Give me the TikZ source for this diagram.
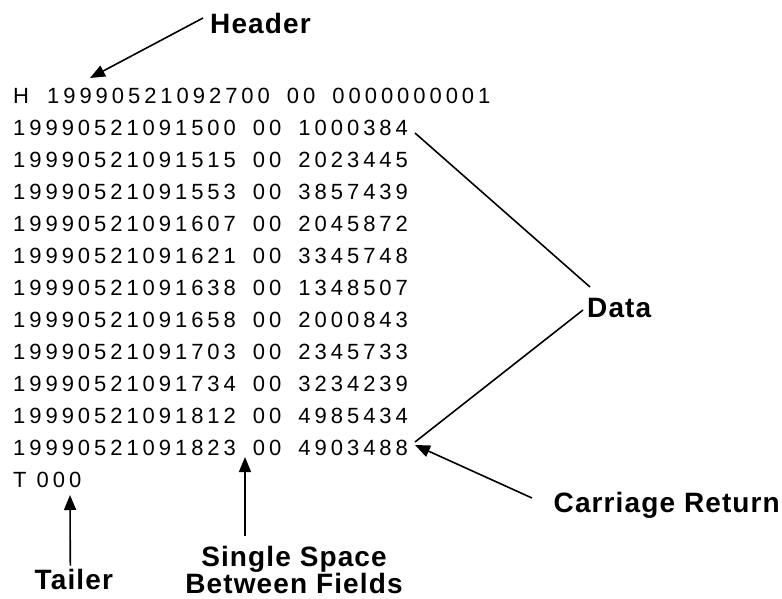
\documentclass[tikz,border=0pt]{standalone}
\usepackage{fontspec}
\setmainfont{Liberation Sans}
\newfontfamily\recfont[LetterSpace=18]{Liberation Sans}
\newfontfamily\labfont[LetterSpace=4]{Liberation Sans Bold}
\usetikzlibrary{arrows.meta,calc}
% widened separator between record fields
\newcommand\fieldgap{\kern7pt}
\tikzset{
  rec/.style={anchor=base west, inner sep=0pt, font=\recfont\fontsize{22}{22}\selectfont},
  lab/.style={inner sep=0pt, font=\labfont\fontsize{28}{28}\selectfont},
  lead/.style={line width=1.6pt},
  pointer/.style={lead, -{Triangle[length=15pt,width=12pt]}}
}
\begin{document}
\begin{tikzpicture}[x=1pt,y=-1pt]
\useasboundingbox (0,0) rectangle (782,598);
% file records
\node[rec] (h)   at (13,103) {H \kern8pt19990521092700 \fieldgap00 \fieldgap0000000001};
\node[rec] (r1)  at (13,135) {19990521091500 \fieldgap00 \fieldgap1000384};
\node[rec] (r2)  at (13,167) {19990521091515 \fieldgap00 \fieldgap2023445};
\node[rec] (r3)  at (13,199) {19990521091553 \fieldgap00 \fieldgap3857439};
\node[rec] (r4)  at (13,231) {19990521091607 \fieldgap00 \fieldgap2045872};
\node[rec] (r5)  at (13,263) {19990521091621 \fieldgap00 \fieldgap3345748};
\node[rec] (r6)  at (13,295) {19990521091638 \fieldgap00 \fieldgap1348507};
\node[rec] (r7)  at (13,327) {19990521091658 \fieldgap00 \fieldgap2000843};
\node[rec] (r8)  at (13,359) {19990521091703 \fieldgap00 \fieldgap2345733};
\node[rec] (r9)  at (13,391) {19990521091734 \fieldgap00 \fieldgap3234239};
\node[rec] (r10) at (13,423) {19990521091812 \fieldgap00 \fieldgap4985434};
\node[rec] (r11) at (13,455) {19990521091823 \fieldgap00 \fieldgap4903488};
\node[rec] (t)   at (13,487) {T 000};
% labels
\node[lab, anchor=base west] (header) at (210,33) {Header};
\node[lab, anchor=base west] (data) at (587,317) {Data};
\node[lab, anchor=base west] (cr) at (553.5,512) {Carriage Return};
\node[lab, anchor=base west] (tailer) at (34.5,589) {Tailer};
\node[lab, anchor=base] (ss1) at (294,566) {Single Space};
\node[lab, anchor=base] (ss2) at (294,593) {Between Fields};
% connectors
\draw[pointer] ($(header.base west)+(-7,-15)$) -- ($(h.base west)+(77,-25)$);
\draw[lead] ($(r1.base west)+(402,-2)$) -- ($(data.base west)+(3,-30)$);
\draw[lead] ($(data.base west)+(-4,-7)$) -- ($(r11.base west)+(402,-13)$);
\draw[pointer] ($(cr.base west)+(-21.5,-14)$) -- ($(r11.base west)+(402,-10)$);
\draw[pointer] ($(ss1.north)+(-49,-10)$) -- ($(r11.base west)+(232,2)$);
\draw[pointer] ($(tailer.north)+(-3.5,-3)$) -- ($(t.base west)+(57,8)$);
\end{tikzpicture}
\end{document}
